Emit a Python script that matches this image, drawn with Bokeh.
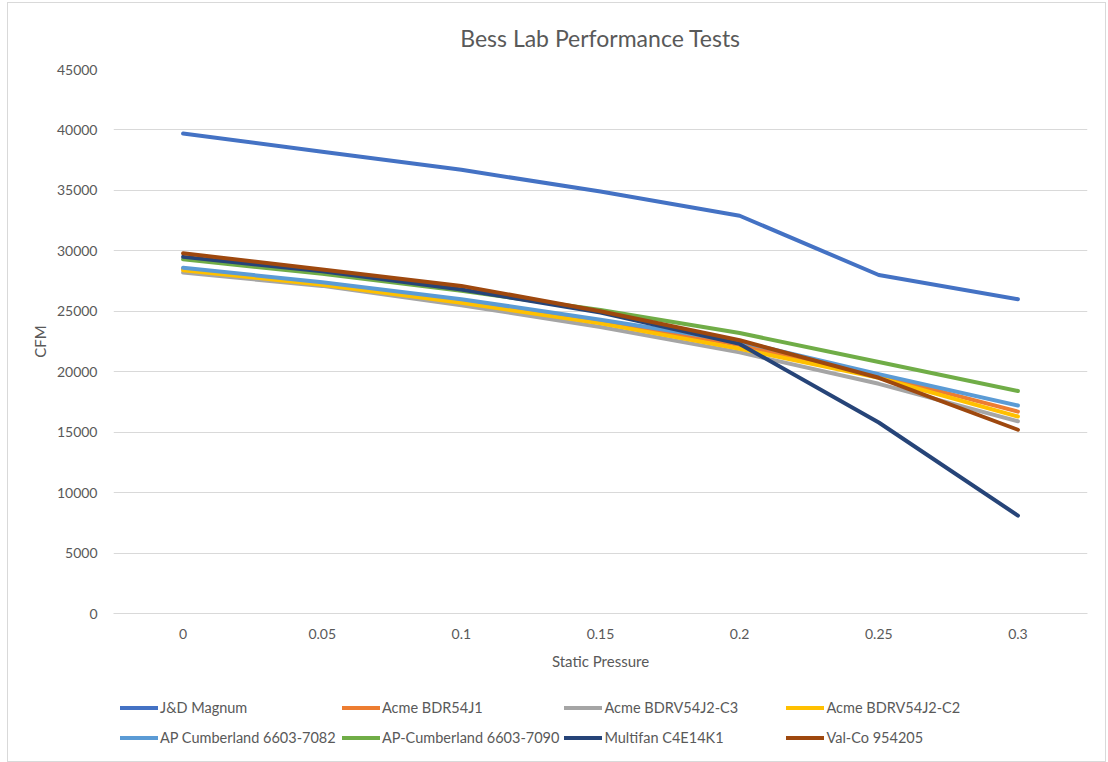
from bokeh.plotting import figure
from bokeh.layouts import column
from bokeh.models import Legend, LegendItem, FactorRange, Range1d, SingleIntervalTicker
from bokeh.embed import file_html
from bokeh.resources import INLINE

pressure = ["0", "0.05", "0.1", "0.15", "0.2", "0.25", "0.3"]

jd_magnum = [39700, 38200, 36700, 34900, 32900, 28000, 26000]
acme_bdr54j1 = [28500, 27300, 25900, 24200, 22200, 19700, 16700]
acme_bdrv54j2_c3 = [28200, 27100, 25500, 23700, 21600, 19000, 15900]
acme_bdrv54j2_c2 = [28400, 27200, 25700, 24000, 21900, 19500, 16300]
ap_cumberland_7082 = [28600, 27400, 26000, 24300, 22500, 19800, 17200]
ap_cumberland_7090 = [29300, 28100, 26700, 25100, 23200, 20800, 18400]
multifan_c4e14k1 = [29500, 28300, 26800, 24900, 22300, 15800, 8100]
valco_954205 = [29800, 28450, 27100, 25000, 22600, 19500, 15200]

series_names = ["J&D Magnum", "Acme BDR54J1", "Acme BDRV54J2-C3", "Acme BDRV54J2-C2",
                "AP Cumberland 6603-7082", "AP-Cumberland 6603-7090",
                "Multifan C4E14K1", "Val-Co 954205"]
series_values = [jd_magnum, acme_bdr54j1, acme_bdrv54j2_c3, acme_bdrv54j2_c2,
                 ap_cumberland_7082, ap_cumberland_7090, multifan_c4e14k1, valco_954205]
colors = ["#4472C4", "#ED7D31", "#A5A5A5", "#FFC000",
          "#5B9BD5", "#70AD47", "#264478", "#9E480E"]

FONT = "Lato"
TXT = "#595959"
LW = 4

p = figure(frame_width=974, frame_height=544, output_backend="svg", toolbar_location=None,
           x_range=FactorRange(*pressure), y_range=Range1d(0, 45000),
           title="Bess Lab Performance Tests",
           min_border_left=105, min_border_right=18, min_border_top=66, min_border_bottom=70)

p.title.align = "center"
p.title.text_font = FONT
p.title.text_font_size = "23px"
p.title.text_font_style = "normal"
p.title.text_color = TXT
p.title.standoff = 35

p.outline_line_color = None
p.background_fill_color = "white"
p.border_fill_color = "white"

p.xgrid.grid_line_color = None
p.ygrid.grid_line_color = "#d9d9d9"
p.ygrid.grid_line_width = 1

p.yaxis.ticker = SingleIntervalTicker(interval=5000)
p.yaxis.axis_line_color = None
p.yaxis.major_tick_line_color = None
p.yaxis.minor_tick_line_color = None
p.yaxis.major_label_standoff = 10
p.yaxis.axis_label = "CFM"

p.xaxis.axis_line_color = "#d9d9d9"
p.xaxis.major_tick_line_color = None
p.xaxis.minor_tick_line_color = None
p.xaxis.major_label_standoff = 9
p.xaxis.axis_label_standoff = 10
p.xaxis.axis_label = "Static Pressure"

for ax in (p.xaxis[0], p.yaxis[0]):
    ax.major_label_text_font = FONT
    ax.major_label_text_font_size = "14px"
    ax.major_label_text_color = TXT
    ax.axis_label_text_font = FONT
    ax.axis_label_text_font_size = "15px"
    ax.axis_label_text_font_style = "normal"
    ax.axis_label_text_color = TXT

for name, vals, col in zip(series_names, series_values, colors):
    p.line(pressure, vals, line_color=col, line_width=LW,
           line_join="round", line_cap="round")

# legend strip below the chart (Excel-style two-row legend); its lines fall
# outside this strip's visible y range, only the legend samples show
lf = figure(width=1097, height=78, output_backend="svg", toolbar_location=None,
            x_range=FactorRange(*pressure), y_range=Range1d(-2, -1),
            x_axis_location=None, y_axis_location=None, min_border=0)
lf.grid.grid_line_color = None
lf.outline_line_color = None
lf.background_fill_color = "white"
lf.border_fill_color = "white"

items = []
for name, vals, col in zip(series_names, series_values, colors):
    r = lf.line(pressure, vals, line_color=col, line_width=LW, line_cap="round")
    items.append(LegendItem(label=name, renderers=[r]))

legend = Legend(items=items, orientation="horizontal", ncols=4,
                location=(7, 11), border_line_color=None,
                background_fill_alpha=0, margin=0, padding=5,
                glyph_width=38, glyph_height=25, label_standoff=2,
                label_width=177, label_height=25, spacing=5,
                label_text_font=FONT, label_text_font_size="14.5px",
                label_text_color=TXT)
lf.add_layout(legend, "center")

layout = column(p, lf, spacing=0,
                styles={"border": "1px solid #d9d9d9", "margin-left": "7px", "margin-top": "2px"})

open("out.html", "w").write(file_html(layout, INLINE))
